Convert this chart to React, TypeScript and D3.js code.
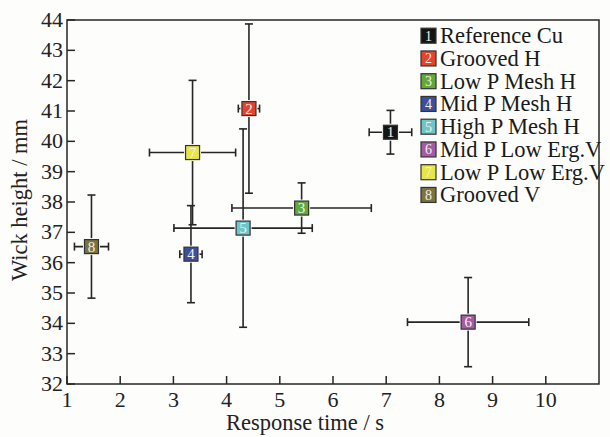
import * as d3 from "d3";

const labels = [
  "Reference Cu",
  "Grooved H",
  "Low P Mesh H",
  "Mid P Mesh H",
  "High P Mesh H",
  "Mid P Low Erg.V",
  "Low P Low Erg.V",
  "Grooved V",
];
const colors = ["#141414", "#e5432e", "#62a93a", "#3c4f9c", "#6fc6ca", "#a45ba3", "#e6e646", "#7b7440"];
const timeMean = [7.08, 4.42, 5.41, 3.33, 4.31, 8.54, 3.36, 1.46];
const timeErr = [0.4, 0.2, 1.31, 0.21, 1.3, 1.14, 0.81, 0.32];
const heightMean = [40.3, 41.08, 37.8, 36.28, 37.14, 34.04, 39.63, 36.53];
const heightErr = [0.72, 2.79, 0.83, 1.6, 3.27, 1.47, 2.38, 1.7];
const xTicks = [1, 2, 3, 4, 5, 6, 7, 8, 9, 10];
const yTicks = [32, 33, 34, 35, 36, 37, 38, 39, 40, 41, 42, 43, 44];

const W = 610;
const H = 437;
const margin = { top: 20, right: 11, bottom: 53, left: 67 };
const font = "Liberation Serif";

export default function App() {
  const x = d3.scaleLinear().domain([1, 11]).range([margin.left, W - margin.right]);
  const y = d3.scaleLinear().domain([32, 44]).range([H - margin.bottom, margin.top]);
  const cap = 4;
  const sq = 14;
  const ink = "#262626";

  return (
    <div style={{ position: "fixed", left: 0, top: 0 }}>
      <svg width={W} height={H} style={{ display: "block", background: "#fdfdfb", fontFamily: font }}>
        {/* frame */}
        <rect
          x={margin.left}
          y={margin.top}
          width={W - margin.left - margin.right}
          height={H - margin.top - margin.bottom}
          fill="none"
          stroke={ink}
          strokeWidth={1.5}
        />
        {xTicks.map((t) => (
          <g key={"x" + t}>
            <line x1={x(t)} x2={x(t)} y1={y(32)} y2={y(32) - 8} stroke={ink} strokeWidth={1.5} />
            <text x={x(t)} y={y(32) + 23} textAnchor="middle" fontSize={22} fill="#222">
              {t}
            </text>
          </g>
        ))}
        {yTicks.map((t) => (
          <g key={"y" + t}>
            <line x1={x(1)} x2={x(1) + 8} y1={y(t)} y2={y(t)} stroke={ink} strokeWidth={1.5} />
            <text x={x(1) - 4} y={y(t) + 7} textAnchor="end" fontSize={22} fill="#222">
              {t}
            </text>
          </g>
        ))}
        <text x={305} y={430} textAnchor="middle" fontSize={22.5} fill="#222">
          Response time / s
        </text>
        <text
          transform={`translate(27,${(y(32) + y(44)) / 2 - 2}) rotate(-90)`}
          textAnchor="middle"
          fontSize={22.5}
          fill="#222"
        >
          Wick height / mm
        </text>

        {/* error bars */}
        {labels.map((_, i) => {
          const cx = x(timeMean[i]);
          const cy = y(heightMean[i]);
          const x0 = x(timeMean[i] - timeErr[i]);
          const x1 = x(timeMean[i] + timeErr[i]);
          const y0 = y(heightMean[i] - heightErr[i]);
          const y1 = y(heightMean[i] + heightErr[i]);
          return (
            <g key={"e" + i} stroke={ink} strokeWidth={1.6}>
              <line x1={x0} x2={x1} y1={cy} y2={cy} />
              <line x1={x0} x2={x0} y1={cy - cap} y2={cy + cap} />
              <line x1={x1} x2={x1} y1={cy - cap} y2={cy + cap} />
              <line x1={cx} x2={cx} y1={y0} y2={y1} />
              <line x1={cx - cap} x2={cx + cap} y1={y0} y2={y0} />
              <line x1={cx - cap} x2={cx + cap} y1={y1} y2={y1} />
            </g>
          );
        })}

        {/* markers */}
        {labels.map((_, i) => {
          const cx = x(timeMean[i]);
          const cy = y(heightMean[i]);
          return (
            <g key={"m" + i}>
              <rect
                x={cx - sq / 2 - 1.5}
                y={cy - sq / 2 - 1.5}
                width={sq + 3}
                height={sq + 3}
                fill="#fdfdfb"
              />
              <rect x={cx - sq / 2} y={cy - sq / 2} width={sq} height={sq} fill={colors[i]} stroke="#333" strokeWidth={1.2} />
              <text x={cx} y={cy + 5} textAnchor="middle" fontSize={15} fill="#f4f0e6">
                {i + 1}
              </text>
            </g>
          );
        })}

        {/* legend */}
        {labels.map((l, i) => {
          const ly = 35.7 + i * 22.75;
          return (
            <g key={"l" + i}>
              <rect x={421} y={ly - 7.5} width={15} height={15} fill={colors[i]} stroke="#333" strokeWidth={1.2} />
              <text x={428.5} y={ly + 5} textAnchor="middle" fontSize={14} fill="#f4f0e6">
                {i + 1}
              </text>
              <text x={440} y={ly + 7.5} fontSize={22.5} fill="#1a1a1a">
                {l}
              </text>
            </g>
          );
        })}
      </svg>
    </div>
  );
}
